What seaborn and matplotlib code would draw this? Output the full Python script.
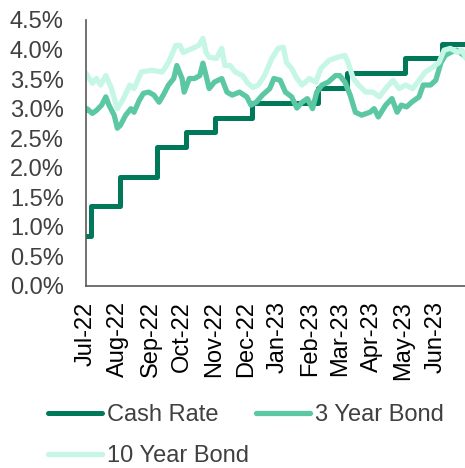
import pandas as pd
import matplotlib
matplotlib.use("Agg")
import matplotlib.pyplot as plt
import matplotlib.dates as mdates
from matplotlib.ticker import MultipleLocator, FuncFormatter
import seaborn as sns

# Cash rate (RBA decision dates, %)
cash_dates = ["2022-07-01", "2022-07-06", "2022-08-03", "2022-09-07", "2022-10-05",
              "2022-11-02", "2022-12-07", "2023-02-08", "2023-03-08", "2023-05-03",
              "2023-06-07", "2023-06-30"]
cash_rate = [0.85, 1.35, 1.85, 2.35, 2.60, 2.85, 3.10, 3.35, 3.60, 3.85, 4.10, 4.10]

# 3 year bond yield (%)
bond3_dates = ["2022-07-01", "2022-07-02", "2022-07-07", "2022-07-11", "2022-07-16",
               "2022-07-20", "2022-07-23", "2022-07-28", "2022-07-31", "2022-08-03",
               "2022-08-08", "2022-08-13", "2022-08-16", "2022-08-21", "2022-08-25",
               "2022-08-30", "2022-09-04", "2022-09-09", "2022-09-13", "2022-09-18",
               "2022-09-23", "2022-09-26", "2022-10-01", "2022-10-03", "2022-10-08",
               "2022-10-13", "2022-10-18", "2022-10-21", "2022-10-24", "2022-10-27",
               "2022-11-01", "2022-11-08", "2022-11-13", "2022-11-18", "2022-11-25",
               "2022-12-02", "2022-12-06", "2022-12-11", "2022-12-17", "2022-12-24",
               "2022-12-28", "2023-01-03", "2023-01-08", "2023-01-14", "2023-01-19",
               "2023-01-24", "2023-01-29", "2023-02-03", "2023-02-07", "2023-02-12",
               "2023-02-18", "2023-02-25", "2023-03-01", "2023-03-06", "2023-03-11",
               "2023-03-16", "2023-03-22", "2023-03-30", "2023-04-03", "2023-04-07",
               "2023-04-14", "2023-04-20", "2023-04-25", "2023-04-29", "2023-05-04",
               "2023-05-09", "2023-05-16", "2023-05-20", "2023-05-27", "2023-06-01",
               "2023-06-06", "2023-06-10", "2023-06-15", "2023-06-21", "2023-06-28"]
bond3_yield = [2.97, 3.00, 2.92, 2.97, 3.06,
               3.20, 3.06, 2.89, 2.67, 2.72,
               2.89, 3.00, 2.94, 3.14, 3.26,
               3.28, 3.23, 3.11, 3.23, 3.40,
               3.51, 3.73, 3.51, 3.28, 3.51,
               3.51, 3.56, 3.77, 3.56, 3.34,
               3.45, 3.51, 3.28, 3.23, 3.28,
               3.20, 3.06, 3.11, 3.23, 3.34,
               3.51, 3.48, 3.28, 3.20, 3.01,
               3.11, 3.17, 3.00, 3.28, 3.40,
               3.45, 3.56, 3.56, 3.45, 3.23,
               2.94, 2.89, 2.94, 3.00, 2.86,
               3.06, 3.17, 2.94, 3.06, 3.03,
               3.11, 3.20, 3.40, 3.40, 3.48,
               3.78, 3.90, 3.95, 3.99, 3.90]

# 10 year bond yield (%)
bond10_dates = ["2022-07-01", "2022-07-07", "2022-07-11", "2022-07-15", "2022-07-20",
                "2022-07-25", "2022-07-31", "2022-08-05", "2022-08-12", "2022-08-16",
                "2022-08-23", "2022-09-02", "2022-09-12", "2022-09-18", "2022-09-25",
                "2022-09-29", "2022-10-02", "2022-10-11", "2022-10-17", "2022-10-21",
                "2022-10-24", "2022-10-27", "2022-11-03", "2022-11-08", "2022-11-11",
                "2022-11-16", "2022-11-21", "2022-11-28", "2022-12-03", "2022-12-08",
                "2022-12-13", "2022-12-19", "2022-12-26", "2023-01-01", "2023-01-06",
                "2023-01-09", "2023-01-14", "2023-01-19", "2023-01-24", "2023-01-31",
                "2023-02-06", "2023-02-11", "2023-02-19", "2023-02-27", "2023-03-06",
                "2023-03-09", "2023-03-14", "2023-03-19", "2023-03-26", "2023-04-02",
                "2023-04-08", "2023-04-14", "2023-04-21", "2023-04-27", "2023-05-03",
                "2023-05-10", "2023-05-16", "2023-05-22", "2023-05-29", "2023-06-04",
                "2023-06-09", "2023-06-15", "2023-06-22", "2023-06-26", "2023-06-30"]
bond10_yield = [3.60, 3.43, 3.51, 3.40, 3.56,
                3.36, 3.00, 3.14, 3.40, 3.34,
                3.62, 3.65, 3.62, 3.78, 4.07,
                4.07, 3.95, 4.02, 4.07, 4.19,
                3.95, 3.87, 3.85, 4.02, 3.73,
                3.73, 3.62, 3.56, 3.43, 3.36,
                3.40, 3.56, 3.85, 4.02, 4.04,
                3.78, 3.68, 3.51, 3.40, 3.51,
                3.45, 3.68, 3.82, 3.87, 3.90,
                3.78, 3.51, 3.40, 3.28, 3.28,
                3.20, 3.34, 3.48, 3.34, 3.40,
                3.34, 3.48, 3.62, 3.70, 3.78,
                3.99, 4.02, 3.95, 3.99, 3.85]

cash = pd.DataFrame({"date": pd.to_datetime(cash_dates), "value": cash_rate})
bond3 = pd.DataFrame({"date": pd.to_datetime(bond3_dates), "value": bond3_yield})
bond10 = pd.DataFrame({"date": pd.to_datetime(bond10_dates), "value": bond10_yield})

sns.set_style("white")
plt.rcParams["font.family"] = ["Liberation Sans", "DejaVu Sans"]

text_color = "#404040"
axis_color = "#595959"

fig = plt.figure(figsize=(4.65, 4.68), dpi=100)
ax = fig.add_axes([86 / 465, 1 - 286 / 468, 1 - 86 / 465, 266 / 468])

sns.lineplot(data=cash, x="date", y="value", ax=ax, color="#00785A", linewidth=3.6,
             drawstyle="steps-post", label="Cash Rate")
sns.lineplot(data=bond3, x="date", y="value", ax=ax, color="#5CC8A3", linewidth=3.8,
             label="3 Year Bond")
sns.lineplot(data=bond10, x="date", y="value", ax=ax, color="#C6F6E6", linewidth=3.8,
             label="10 Year Bond")

ax.set_ylim(0, 4.5)
ax.yaxis.set_major_locator(MultipleLocator(0.5))
ax.yaxis.set_major_formatter(FuncFormatter(lambda v, p: f"{v:.1f}%"))
ax.set_xlim(pd.Timestamp("2022-07-01"), pd.Timestamp("2023-06-29"))
ax.xaxis.set_major_locator(mdates.MonthLocator())
ax.xaxis.set_major_formatter(mdates.DateFormatter("%b-%y"))
ax.set_xlabel("")
ax.set_ylabel("")

for side in ["top", "right"]:
    ax.spines[side].set_visible(False)
for side in ["left", "bottom"]:
    ax.spines[side].set_color(axis_color)
    ax.spines[side].set_linewidth(1.2)

ax.tick_params(axis="both", which="major", direction="out", length=5, width=1,
               color=axis_color, labelsize=17, labelcolor=text_color)
ax.tick_params(axis="x", labelrotation=90, labelcolor="black", pad=6)
ax.tick_params(axis="y", pad=11)

# legend fills row by row in the reference: Cash Rate, 3 Year Bond / 10 Year Bond
handles, labels = ax.get_legend_handles_labels()
order = [0, 2, 1]
ax.legend([handles[i] for i in order], [labels[i] for i in order],
          loc="upper left", bbox_to_anchor=(48 / 465, 1 - 404 / 468),
          bbox_transform=fig.transFigure, ncol=2, frameon=False, fontsize=17,
          handlelength=2.3, handletextpad=0.2, columnspacing=0.3,
          labelspacing=0.8, borderaxespad=0, borderpad=0)
for t in ax.get_legend().get_texts():
    t.set_color(text_color)

fig.savefig("out.png", dpi=100)
